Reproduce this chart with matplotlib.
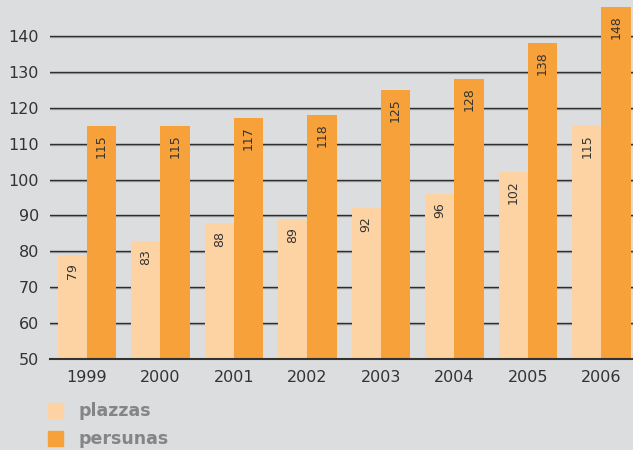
import numpy as np
import matplotlib.pyplot as plt
from matplotlib.patches import Rectangle

years = ['1999', '2000', '2001', '2002', '2003', '2004', '2005', '2006']
plazzas = [79, 83, 88, 89, 92, 96, 102, 115]
persunas = [115, 115, 117, 118, 125, 128, 138, 148]

bg = '#dcdddf'
c_light = '#fdd3a4'
c_dark = '#f7a13b'

fig = plt.figure(figsize=(6.33, 4.5), dpi=100, facecolor=bg)
ax = fig.add_axes([50 / 633, 91 / 450, 583 / 633, 359 / 450])
ax.set_facecolor(bg)

x = np.arange(len(years))
w = 0.40
ax.set_xlim(-0.503, 7.43)
ax.set_ylim(50, 150)

# gridlines with a light shadow under them
for v in range(60, 150, 10):
    ax.axhline(v - 0.3, color='#a8a8a8', lw=1.0, zorder=0.5)
    ax.axhline(v, color='#2e2e2e', lw=1.0, zorder=1)

ax.bar(x - w / 2, plazzas, w, color=c_light, zorder=2)
ax.bar(x + w / 2, persunas, w, color=c_dark, zorder=2)

for xi, a, b in zip(x, plazzas, persunas):
    ax.text(xi - w / 2, a - 2.3, str(a), rotation=90, ha='center', va='top',
            fontsize=9, color='#333333', zorder=3)
    ax.text(xi + w / 2, b - 2.3, str(b), rotation=90, ha='center', va='top',
            fontsize=9, color='#333333', zorder=3)

for s in ['top', 'right', 'left']:
    ax.spines[s].set_visible(False)
ax.spines['bottom'].set_color('#333333')
ax.spines['bottom'].set_linewidth(1.5)
ax.spines['bottom'].set_zorder(3)

ax.set_yticks(range(50, 150, 10))
ax.set_xticks(x)
ax.set_xticklabels(years)
ax.tick_params(axis='both', length=0, labelsize=11.5, colors='#333333')
ax.tick_params(axis='y', pad=8)
ax.tick_params(axis='x', pad=8)

# legend
for i, (lab, col) in enumerate([('plazzas', c_light), ('persunas', c_dark)]):
    ytop = 403 + i * 28
    fig.patches.append(Rectangle((48 / 633, 1 - (ytop + 15) / 450), 15 / 633, 15 / 450,
                                 transform=fig.transFigure, color=col, figure=fig))
    fig.text(78 / 633, 1 - (ytop + 8) / 450, lab, fontsize=12.5, fontweight='bold',
             color='#858585', va='center', ha='left')

fig.savefig('out.png', dpi=100, facecolor=bg)
